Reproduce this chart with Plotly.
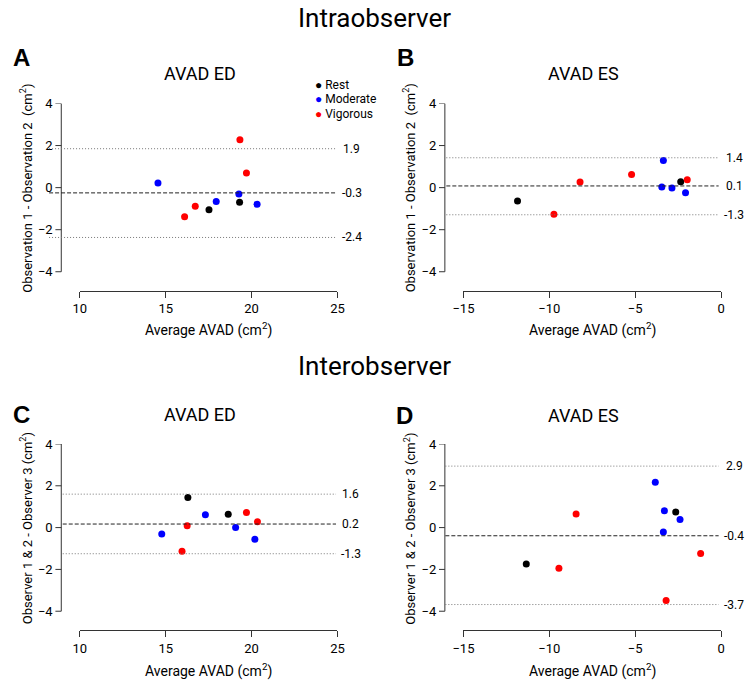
import plotly.graph_objects as go

# groups shared by all four panels
groups = ["Rest", "Moderate", "Vigorous"]
group_colors = ["black", "blue", "red"]

# A: intraobserver, AVAD ED
a_grp = ["Rest", "Rest", "Moderate", "Moderate", "Moderate", "Moderate",
         "Vigorous", "Vigorous", "Vigorous", "Vigorous"]
a_avg = [17.52, 19.30, 14.55, 17.94, 19.26, 20.32, 16.10, 16.72, 19.32, 19.70]
a_diff = [-1.05, -0.69, 0.22, -0.66, -0.30, -0.79, -1.38, -0.88, 2.28, 0.69]
a_lines = [1.85, -0.25, -2.37]
a_line_labels = ["1.9", "-0.3", "-2.4"]

# B: intraobserver, AVAD ES
b_grp = a_grp
b_avg = [-11.85, -2.35, -3.36, -3.45, -2.86, -2.07, -9.73, -8.21, -5.21, -1.97]
b_diff = [-0.63, 0.28, 1.29, 0.03, -0.02, -0.24, -1.26, 0.27, 0.63, 0.38]
b_lines = [1.42, 0.08, -1.29]
b_line_labels = ["1.4", "0.1", "-1.3"]

# C: interobserver, AVAD ED
c_grp = a_grp
c_avg = [16.29, 18.64, 17.31, 19.07, 14.77, 20.19, 19.70, 20.34, 16.25, 15.95]
c_diff = [1.44, 0.64, 0.61, 0.01, -0.31, -0.56, 0.72, 0.28, 0.09, -1.13]
c_lines = [1.60, 0.17, -1.25]
c_line_labels = ["1.6", "0.2", "-1.3"]

# D: interobserver, AVAD ES
d_grp = a_grp
d_avg = [-2.64, -11.34, -3.83, -3.30, -2.39, -3.36, -8.44, -1.19, -9.44, -3.20]
d_diff = [0.75, -1.74, 2.17, 0.80, 0.39, -0.21, 0.65, -1.24, -1.95, -3.49]
d_lines = [2.94, -0.39, -3.68]
d_line_labels = ["2.9", "-0.4", "-3.7"]

ed_ticks = [10, 15, 20, 25]
es_ticks = [-15, -10, -5, 0]
diff_ticks = [-4, -2, 0, 2, 4]

W, H = 752, 681
TICK = 6


def px(v):
    return v / W


def py(v):
    return 1 - v / H


# pixel layout of each panel
panels = [
    dict(letter="A", title="AVAD ED", grp=a_grp, avg=a_avg, diff=a_diff,
         lines=a_lines, labels=a_line_labels, ticks=ed_ticks,
         xdom=(70.5, 334.5), ydom=(97.5, 267.5), xpos=286.5, ypos=51.5,
         line_x=(39, 332), lab_x=349, title_y=67.5, letter_xy=(11, 51),
         ytitle="Observation 1 - Observation 2 \u00a0(cm<sup>2</sup>)",
         ytitle_xy=(16, 183), xtitle_y=326),
    dict(letter="B", title="AVAD ES", grp=b_grp, avg=b_avg, diff=b_diff,
         lines=b_lines, labels=b_line_labels, ticks=es_ticks,
         xdom=(463.5, 727.5), ydom=(97.5, 267.5), xpos=286.5, ypos=444.5,
         line_x=(446, 725), lab_x=741, title_y=67.5, letter_xy=(404, 51),
         ytitle="Observation 1 - Observation 2 \u00a0(cm<sup>2</sup>)",
         ytitle_xy=(408, 183), xtitle_y=326),
    dict(letter="C", title="AVAD ED", grp=c_grp, avg=c_avg, diff=c_diff,
         lines=c_lines, labels=c_line_labels, ticks=ed_ticks,
         xdom=(70.5, 334.5), ydom=(441.5, 610.5), xpos=629.5, ypos=51.5,
         line_x=(53, 333), lab_x=348, title_y=412, letter_xy=(11, 411.5),
         ytitle="Observer 1 &amp; 2 - Observer 3 (cm<sup>2</sup>)",
         ytitle_xy=(15, 527), xtitle_y=670),
    dict(letter="D", title="AVAD ES", grp=d_grp, avg=d_avg, diff=d_diff,
         lines=d_lines, labels=d_line_labels, ticks=es_ticks,
         xdom=(463.5, 727.5), ydom=(441.5, 610.5), xpos=629.5, ypos=444.5,
         line_x=(445, 725), lab_x=741, title_y=413, letter_xy=(403, 413),
         ytitle="Observer 1 &amp; 2 - Observer 3 (cm<sup>2</sup>)",
         ytitle_xy=(408, 527), xtitle_y=670),
]

fig = go.Figure()
shapes = []
annotations = []
axis_color = "#333333"

for i, p in enumerate(panels):
    n = "" if i == 0 else str(i + 1)
    xa, ya = "x" + n, "y" + n

    for g, col in zip(groups, group_colors):
        xs = [x for x, k in zip(p["avg"], p["grp"]) if k == g]
        ys = [y for y, k in zip(p["diff"], p["grp"]) if k == g]
        fig.add_trace(go.Scatter(
            x=xs, y=ys, mode="markers", name=g, xaxis=xa, yaxis=ya,
            marker=dict(color=col, size=7), cliponaxis=False, showlegend=False,
        ))

    # the y domain runs down to the x axis so that axis sits below -4,
    # detached like an R plot; the y range is stretched to match
    y_top, y_bot = p["ydom"]
    per_px = (diff_ticks[-1] - diff_ticks[0]) / (y_bot - y_top)
    y_low = diff_ticks[0] - (p["xpos"] - y_bot) * per_px

    fig.update_layout({
        "xaxis" + n: dict(
            domain=[px(p["xdom"][0]), px(p["xdom"][1])],
            range=[p["ticks"][0], p["ticks"][-1]],
            anchor=ya, showline=True, linecolor=axis_color, linewidth=1,
            ticks="outside", ticklen=TICK, tickcolor=axis_color,
            tickvals=p["ticks"], showgrid=False, zeroline=False,
            tickfont=dict(size=13),
        ),
        "yaxis" + n: dict(
            domain=[py(p["xpos"]), py(y_top)],
            range=[y_low, diff_ticks[-1]],
            anchor="free", position=px(p["ypos"]),
            showline=False, ticks="outside", ticklen=TICK,
            tickcolor="rgba(0,0,0,0)",
            tickvals=diff_ticks, showgrid=False, zeroline=False,
            tickfont=dict(size=13),
        ),
    })

    # y axis line and tick marks, from -4 to 4 only
    shapes.append(dict(
        type="line", xref="paper", yref=ya,
        x0=px(p["ypos"]), x1=px(p["ypos"]),
        y0=diff_ticks[0], y1=diff_ticks[-1],
        line=dict(color=axis_color, width=1),
    ))
    for v in diff_ticks:
        shapes.append(dict(
            type="line", xref="paper", yref=ya,
            x0=px(p["ypos"] - TICK), x1=px(p["ypos"]), y0=v, y1=v,
            line=dict(color=axis_color, width=1),
        ))

    # limits of agreement (dotted) and mean difference (dashed)
    for j, (val, lab) in enumerate(zip(p["lines"], p["labels"])):
        is_mean = j == 1
        shapes.append(dict(
            type="line", xref="paper", yref=ya,
            x0=px(p["line_x"][0]), x1=px(p["line_x"][1]), y0=val, y1=val,
            line=dict(color="#222222" if is_mean else "#777777", width=1,
                      dash="4px,2px" if is_mean else "1px,2px"),
        ))
        annotations.append(dict(
            text=lab, xref="paper", yref=ya, x=px(p["lab_x"]), y=val,
            showarrow=False, xanchor="center", yanchor="middle",
            font=dict(size=12),
        ))

    cx = (p["xdom"][0] + p["xdom"][1]) / 2
    annotations += [
        dict(text=p["title"], xref="paper", yref="paper",
             x=px(cx - 9), y=py(p["title_y"]), showarrow=False,
             xanchor="center", yanchor="middle", font=dict(size=18)),
        dict(text="<b>" + p["letter"] + "</b>", xref="paper", yref="paper",
             x=px(p["letter_xy"][0]), y=py(p["letter_xy"][1]), showarrow=False,
             xanchor="center", yanchor="middle",
             font=dict(size=24, family="Liberation Sans, Arial")),
        dict(text=p["ytitle"], xref="paper", yref="paper", textangle=-90,
             x=px(p["ytitle_xy"][0]), y=py(p["ytitle_xy"][1]), showarrow=False,
             xanchor="center", yanchor="middle", font=dict(size=13)),
        dict(text="Average AVAD (cm<sup>2</sup>)", xref="paper", yref="paper",
             x=px(cx), y=py(p["xtitle_y"]), showarrow=False,
             xanchor="center", yanchor="middle", font=dict(size=14)),
    ]

# key in panel A
for g, col, row_y in zip(groups, group_colors, [79, 93, 108]):
    annotations.append(dict(
        text='<span style="color:%s">\u25cf</span> %s' % (col, g),
        xref="paper", yref="paper", x=px(309), y=py(row_y), showarrow=False,
        xanchor="left", yanchor="middle", font=dict(size=12),
    ))

annotations += [
    dict(text="Intraobserver", xref="paper", yref="paper", x=px(372.5),
         y=py(11), showarrow=False, xanchor="center", yanchor="middle",
         font=dict(size=26)),
    dict(text="Interobserver", xref="paper", yref="paper", x=px(372.5),
         y=py(363), showarrow=False, xanchor="center", yanchor="middle",
         font=dict(size=26)),
]

fig.update_layout(
    width=W, height=H,
    margin=dict(l=0, r=0, t=0, b=0),
    paper_bgcolor="white", plot_bgcolor="white",
    font=dict(family="Roboto", color="black"),
    showlegend=False,
    shapes=shapes, annotations=annotations,
)

# drop the default page margin so the figure fills the window exactly
fig.write_html(
    "out.html",
    config={"displayModeBar": False},
    post_script="document.body.style.margin='0';"
                "document.body.style.overflow='hidden';",
)
